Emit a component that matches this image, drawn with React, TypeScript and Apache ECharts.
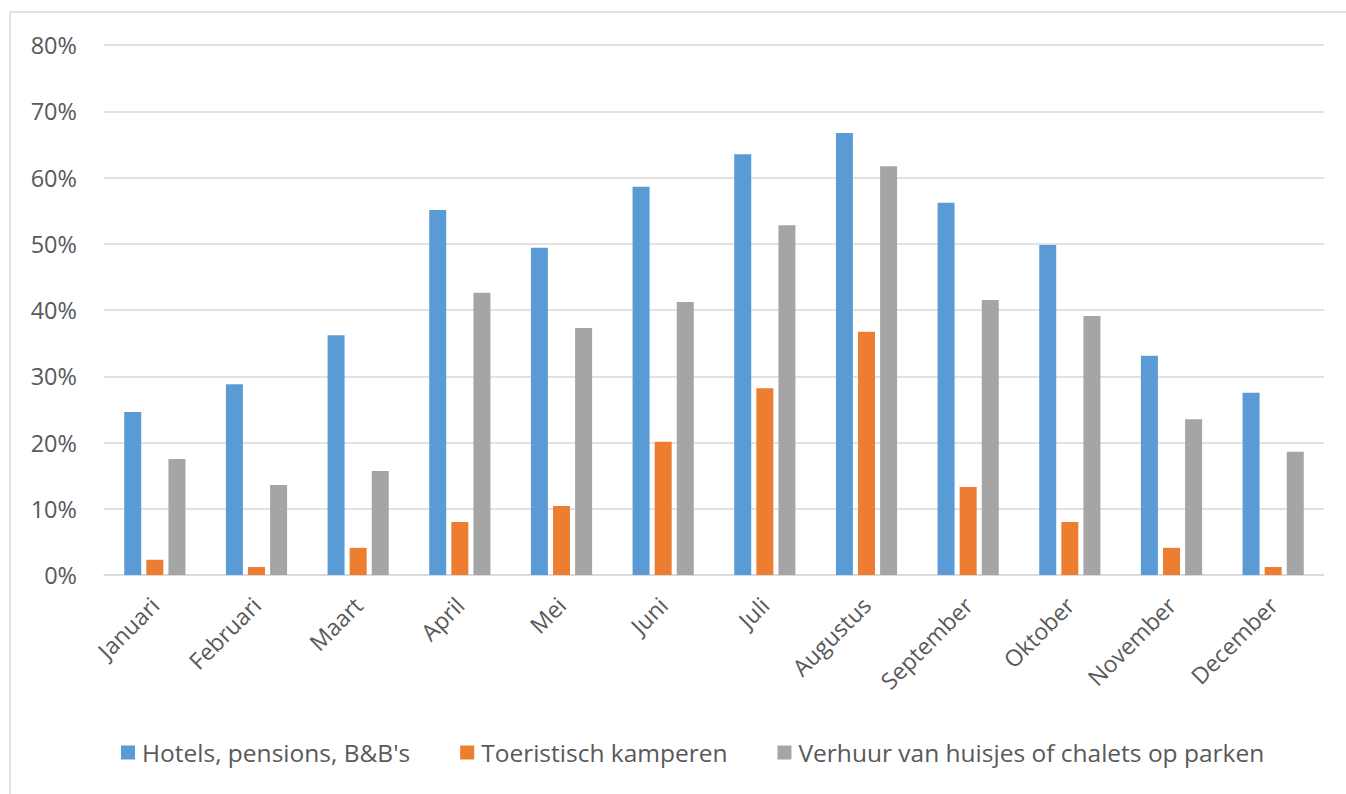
import React, { useEffect, useRef } from "react";
import * as echarts from "echarts";

const categories = ["Januari", "Februari", "Maart", "April", "Mei", "Juni", "Juli", "Augustus", "September", "Oktober", "November", "December"];
const hotels = [24.6, 28.8, 36.2, 55.1, 49.4, 58.6, 63.5, 66.7, 56.2, 49.8, 33.1, 27.5];
const kamperen = [2.3, 1.2, 4.1, 8.0, 10.4, 20.1, 28.2, 36.7, 13.3, 8.0, 4.1, 1.2];
const huisjes = [17.5, 13.6, 15.7, 42.6, 37.3, 41.2, 52.8, 61.7, 41.5, 39.1, 23.5, 18.6];
const seriesNames = ["Hotels, pensions, B&B's", "Toeristisch kamperen", "Verhuur van huisjes of chalets op parken"];
const colors = ["#5b9bd5", "#ed7d31", "#a5a5a5"];

export default function App() {
  const ref = useRef<HTMLDivElement>(null);
  useEffect(() => {
    const chart = echarts.init(ref.current!, undefined, { renderer: "svg" });
    const font = "'Open Sans', sans-serif";
    const mk = (name: string, data: number[], color: string) => ({
      name,
      type: "bar",
      data,
      barWidth: 17,
      barGap: "30%",
      itemStyle: { color },
    });
    chart.setOption({
      animation: false,
      color: colors,
      textStyle: { fontFamily: font },
      graphic: [
        {
          type: "rect",
          shape: { x: 10, y: 12, width: 1400, height: 900 },
          style: { fill: "none", stroke: "#d9d9d9", lineWidth: 1.5 },
          silent: true,
          z: -1,
        },
      ],
      grid: { left: 104, right: 22, top: 45, bottom: 219, containLabel: false },
      legend: {
        top: 735,
        left: 116,
        itemWidth: 14,
        itemHeight: 14,
        itemGap: 50,
        icon: "rect",
        textStyle: { color: "#595959", fontSize: 24.5, fontFamily: font, padding: [0, 0, 0, 2] },
        data: seriesNames,
      },
      xAxis: {
        type: "category",
        data: categories,
        axisTick: { show: false },
        axisLine: { lineStyle: { color: "#d9d9d9", width: 1.5 } },
        axisLabel: { rotate: 45, margin: 26, color: "#595959", fontSize: 23, fontFamily: font },
      },
      yAxis: {
        type: "value",
        min: 0,
        max: 80,
        interval: 10,
        axisLine: { show: false },
        axisTick: { show: false },
        splitLine: { lineStyle: { color: "#d9d9d9", width: 1.5 } },
        axisLabel: { formatter: "{value}%", color: "#595959", fontSize: 23.5, fontFamily: font, margin: 27 },
      },
      series: [
        mk(seriesNames[0], hotels, colors[0]),
        mk(seriesNames[1], kamperen, colors[1]),
        mk(seriesNames[2], huisjes, colors[2]),
      ],
    });
    return () => chart.dispose();
  }, []);
  return <div ref={ref} style={{ position: "fixed", left: 0, top: 0, width: 1346, height: 794, background: "#fff" }} />;
}
